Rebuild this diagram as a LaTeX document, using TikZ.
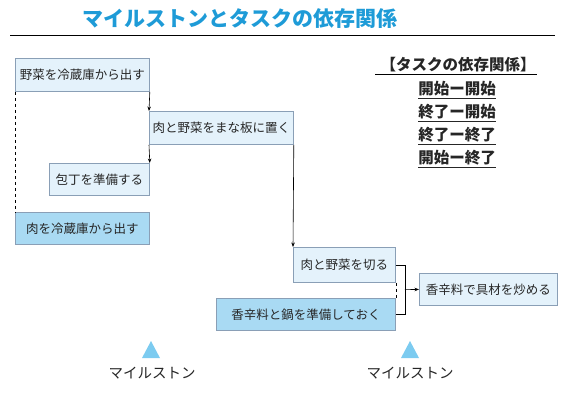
\documentclass[tikz,border=0pt]{standalone}
\usepackage{fontspec}
\setmainfont{Noto Sans CJK JP}
\usetikzlibrary{arrows.meta,calc}
\definecolor{titleblue}{HTML}{1E9BD7}
\definecolor{lightfill}{HTML}{E4F2FB}
\definecolor{darkfill}{HTML}{A9DAF3}
\definecolor{boxline}{HTML}{8A9FB6}
\definecolor{tri}{HTML}{7CCBF0}
\begin{document}
\begin{tikzpicture}[x=1pt,y=-1pt,
  task/.style={draw=boxline,line width=0.8pt,fill=lightfill,anchor=north west,inner sep=0pt,font=\fontsize{12.5}{14}\selectfont,text=black!85},
  taskdark/.style={task,fill=darkfill},
  arr/.style={line width=0.6pt,-{Stealth[length=4.5pt,width=3.5pt]}},
  conn/.style={line width=0.6pt},
  legend/.style={font=\fontsize{15.5}{17}\selectfont\bfseries,text=black!85},
  mslabel/.style={font=\fontsize{14.5}{16}\selectfont,text=black!85}]
\useasboundingbox (0,0) rectangle (572,404);
% title
\node[font=\fontsize{21}{24}\selectfont\bfseries,text=titleblue] (title) at (240,19) {マイルストンとタスクの依存関係};
\draw[line width=0.8pt] (10,35) -- (555,35);
% tasks
\node[task,minimum width=134pt,minimum height=33pt] (b1) at (15,58) {野菜を冷蔵庫から出す};
\node[task,minimum width=144pt,minimum height=33pt] (b2) at (149,111) {肉と野菜をまな板に置く};
\node[task,minimum width=100pt,minimum height=32pt] (b3) at (49,163) {包丁を準備する};
\node[taskdark,minimum width=134pt,minimum height=32pt] (b4) at (15,212) {肉を冷蔵庫から出す};
\node[task,minimum width=102pt,minimum height=35pt] (b5) at (293,247) {肉と野菜を切る};
\node[taskdark,minimum width=179pt,minimum height=32pt] (b6) at (216,298) {香辛料と鍋を準備しておく};
\node[task,minimum width=138pt,minimum height=32pt] (b7) at (419,273) {香辛料で具材を炒める};
% connectors
\draw[arr] (b1.south east) -- (b2.north west);
\draw[arr] (b2.south west) -- (b3.north east);
\draw[conn,dashed] (b1.south west) -- (b4.north west);
\draw[arr] (b2.south east) -- (b5.north west);
\draw[conn,dashed] (b5.south east) -- (b6.north east);
\draw[conn] (b5.east) -- ++(9,0) coordinate (j1) |- (b6.east);
\coordinate (j) at ($(j1)!0.5!(j1|-b6.east)$);
\draw[arr] (j) -- (b7.west);
% legend
\node[legend] (lh) at (458,65) {【タスクの依存関係】};
\draw[line width=0.9pt] (375,74) -- (537,74);
\node[legend] (l1) at (457,90) {\underline{開始ー開始}};
\node[legend] (l2) at (457,113) {\underline{終了ー開始}};
\node[legend] (l3) at (457,136) {\underline{終了ー終了}};
\node[legend] (l4) at (457,159) {\underline{開始ー終了}};
% milestones
\fill[tri] (142,358) -- (160,358) -- (151,341) -- cycle;
\fill[tri] (401,358) -- (419,358) -- (410,341) -- cycle;
\node[mslabel] (m1) at (152,373) {マイルストン};
\node[mslabel] (m2) at (410,373) {マイルストン};
\end{tikzpicture}
\end{document}
